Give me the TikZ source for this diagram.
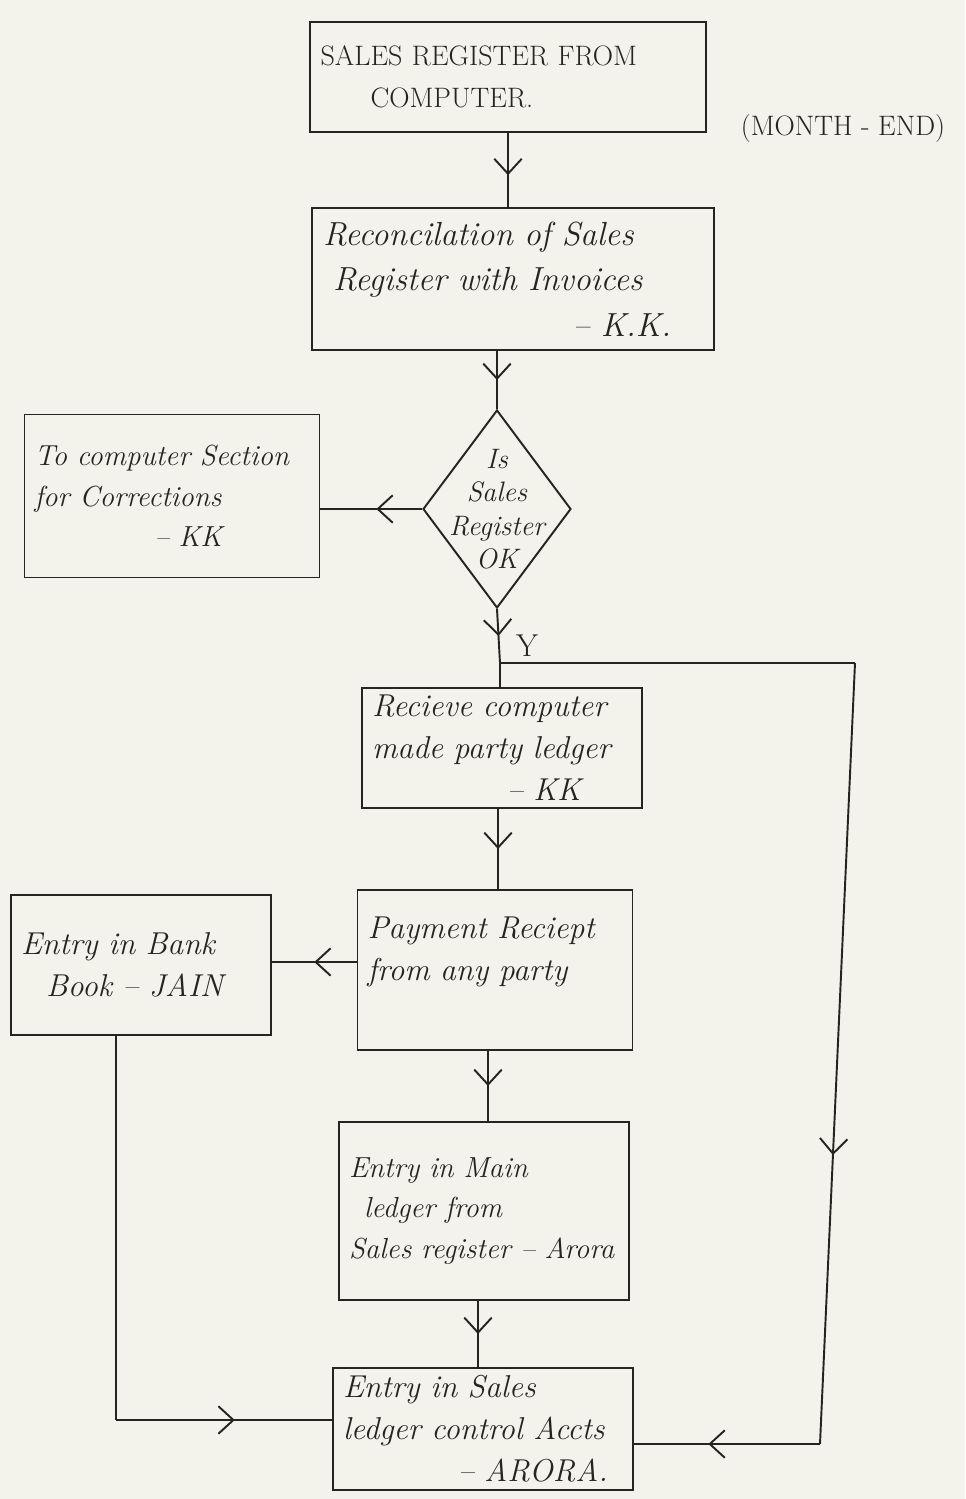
\documentclass[tikz,border=0pt]{standalone}
\usetikzlibrary{shapes.geometric,arrows.meta,decorations.markings,calc}
\definecolor{paper}{RGB}{243,242,235}
\definecolor{ink}{RGB}{38,36,32}

\tikzset{
  hand/.style={font=\fontsize{18}{24}\selectfont\itshape, text=ink},
  small hand/.style={font=\fontsize{16.5}{23}\selectfont\itshape, text=ink},
  caps/.style={font=\fontsize{16}{24}\selectfont, text=ink},
  box/.style={draw=ink, line width=1.1pt, rectangle, align=left, hand,
              inner xsep=0.2cm, inner ysep=4pt},
  link/.style={draw=ink, line width=1.1pt},
  midarrow/.style={link, postaction={decorate}, decoration={markings,
      mark=at position #1 with {\arrow{Straight Barb[length=0.3cm,width=0.55cm,line width=1.1pt]}}}},
  midarrow/.default=0.55
}

\begin{document}
\begin{tikzpicture}[x=0.02cm, y=-0.02cm]
  % paper and page extent
  \fill[paper] (0,0) rectangle (965,1499);
  \useasboundingbox (0,0) rectangle (965,1499);

  % process boxes
  \node[box, caps, minimum width=7.94cm, text width=7.5cm, minimum height=2.2cm] (reg) at (508,77)
    {SALES REGISTER FROM\\\hspace*{1cm}COMPUTER.};
  \node[caps, anchor=center] (month) at (843,128) {(MONTH - END)};

  \node[box, font=\fontsize{19}{26}\selectfont\itshape, minimum width=8.06cm, text width=7.6cm,
        minimum height=2.84cm] (recon) at (513,279)
    {Reconcilation of Sales\\\hspace*{0.2cm}Register with Invoices\\\hspace*{5cm}-- K.K.};

  \node[draw=ink, line width=1.1pt, diamond, minimum width=2.96cm, minimum height=3.96cm,
        inner sep=0pt] (ok) at (497,509) {};
  \node[align=center, font=\fontsize{16}{19}\selectfont\itshape, text=ink] (oktext) at (ok)
    {Is\\Sales\\Register\\OK};

  \node[box, small hand, minimum width=5.76cm, text width=5.5cm, minimum height=3.26cm] (corr) at (172,496)
    {To computer Section\\for Corrections\\\hspace*{2.4cm}-- KK};

  \node[box, minimum width=5.5cm, text width=5.2cm, minimum height=2.4cm] (party) at (502,748)
    {Recieve computer\\made party ledger\\\hspace*{2.7cm}-- KK};

  \node[box, minimum width=5.48cm, text width=5.1cm, minimum height=3.2cm] (pay) at (495,970)
    {Payment Reciept\\from any party\\\mbox{}};

  \node[box, minimum width=5.08cm, text width=4.8cm, minimum height=2.8cm] (bank) at (141,965)
    {Entry in Bank\\\hspace*{0.5cm}Book -- JAIN};

  \node[box, small hand, minimum width=5.76cm, text width=5.4cm, minimum height=3.56cm] (main) at (484,1211)
    {Entry in Main\\\hspace*{0.3cm}ledger from\\Sales register -- Arora};

  \node[box, minimum width=5.94cm, text width=5.6cm, minimum height=2.44cm] (ctrl) at (483,1429)
    {Entry in Sales\\ledger control Accts\\\hspace*{2.3cm}-- ARORA.};

  % junction points of the connectors
  \coordinate (jy) at (500,663);
  \coordinate (rtop) at (855,663);
  \coordinate (rbot) at (820,1444);
  \coordinate (lcorner) at (116,1420);
  \coordinate (xbank) at (116,0);
  \coordinate (xpay) at (488,0);
  \coordinate (xmain) at (478,0);

  % connectors
  \draw[midarrow=0.57] (reg.south |- reg.south) -- (reg.south |- recon.north);
  \draw[midarrow=0.5] (recon.south -| ok.north) -- (ok.north);
  \draw[midarrow=0.45] (ok.west) -- (ok.west -| corr.east);
  \draw[midarrow=0.5] (ok.south) -- (jy);
  \node[font=\fontsize{18}{20}\selectfont, text=ink] (yes) at (527,646) {Y};
  \draw[link] (jy) -- (jy |- party.north);
  \draw[link] (jy) -- (rtop);
  \draw[midarrow=0.63] (rtop) -- (rbot);
  \draw[midarrow=0.6] (rbot) -- (rbot -| ctrl.east);
  \draw[midarrow=0.5] (party.south -| 498,0) -- (pay.north -| 498,0);
  \draw[midarrow=0.5] (pay.west |- 0,962) -- (bank.east |- 0,962);
  \draw[link] (xbank |- bank.south) -- (lcorner);
  \draw[midarrow=0.55] (lcorner) -- (lcorner -| ctrl.west);
  \draw[midarrow=0.5] (xpay |- pay.south) -- (xpay |- main.north);
  \draw[midarrow=0.5] (xmain |- main.south) -- (xmain |- ctrl.north);
\end{tikzpicture}
\end{document}
